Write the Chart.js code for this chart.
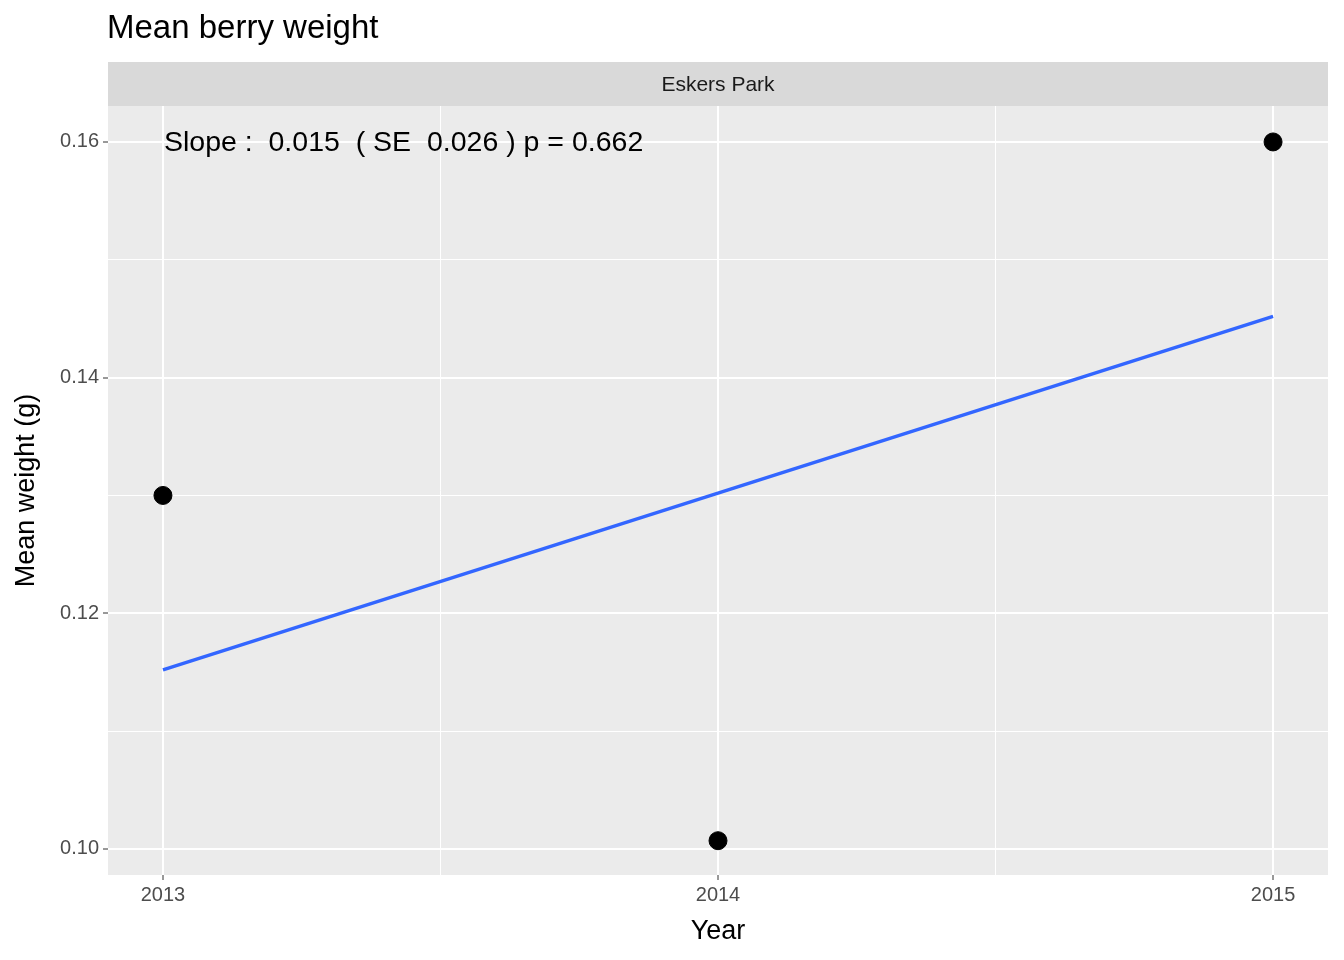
<!DOCTYPE html>
<html>
<head>
<meta charset="utf-8">
<script src="https://cdn.jsdelivr.net/npm/chart.js@4"></script>
<style>
  body { margin: 0; background: #fff; }
  #wrap { width: 1344px; height: 960px; }
</style>
</head>
<body>
<div id="wrap"><canvas id="berryChart" width="1344" height="960"></canvas></div>
<script>
// Datos
const years = [2013, 2014, 2015];
const meanWeight = [0.130, 0.1007, 0.160];
const fitWeight = [0.1152, 0.1302, 0.1452]; // recta de regresion
const fitYears = [2013, 2015];
const fitEnds = [fitWeight[0], fitWeight[2]];
const siteName = 'Eskers Park';
const slopeText = 'Slope :  0.015  ( SE  0.026 ) p = 0.662';

const FONT = '"Liberation Sans", Arial, sans-serif';

// Dibuja fondo gris, franja y textos estilo ggplot
const ggDecor = {
    id: 'ggDecor',
    beforeDraw(chart) {
        const { ctx, chartArea: a } = chart;
        ctx.save();
        ctx.fillStyle = '#ebebeb';
        ctx.fillRect(a.left, a.top, a.right - a.left, a.bottom - a.top);
        ctx.fillStyle = '#d9d9d9';
        ctx.fillRect(a.left, 62, a.right - a.left, a.top - 62);
        ctx.fillStyle = '#1a1a1a';
        ctx.font = '21px ' + FONT;
        ctx.textAlign = 'center';
        ctx.textBaseline = 'middle';
        ctx.fillText(siteName, (a.left + a.right) / 2, 85);
        ctx.fillStyle = '#000';
        ctx.font = '33px ' + FONT;
        ctx.textAlign = 'left';
        ctx.fillText('Mean berry weight', 107, 29);
        ctx.restore();
    },
    afterDatasetsDraw(chart) {
        const { ctx, scales } = chart;
        ctx.save();
        ctx.fillStyle = '#000';
        ctx.font = '28.5px ' + FONT;
        ctx.textAlign = 'left';
        ctx.textBaseline = 'middle';
        ctx.fillText(slopeText, scales.x.getPixelForValue(2013) + 1, scales.y.getPixelForValue(0.16) + 1);
        ctx.restore();
    }
};

const isMajor = (v, step) => Math.abs(v / step - Math.round(v / step)) < 1e-6;

new Chart(document.getElementById('berryChart'), {
    type: 'scatter',
    data: {
        datasets: [{
            type: 'line',
            data: fitYears.map((x, i) => ({ x: x, y: fitEnds[i] })),
            borderColor: '#3366FF',
            borderWidth: 3.5,
            pointRadius: 0,
            fill: false
        }, {
            data: years.map((x, i) => ({ x: x, y: meanWeight[i] })),
            backgroundColor: '#000',
            borderColor: '#000',
            pointRadius: 9,
            pointHoverRadius: 9
        }]
    },
    options: {
        responsive: false,
        animation: false,
        layout: { padding: { top: 106, right: 16 } },
        plugins: { legend: { display: false }, tooltip: { enabled: false } },
        scales: {
            x: {
                type: 'linear',
                min: 2012.901, max: 2015.099,
                afterBuildTicks(s) {
                    s.ticks = [2013, 2013.5, 2014, 2014.5, 2015].map(v => ({ value: v }));
                },
                afterFit(s) { s.height = 85; },
                border: { display: false },
                grid: {
                    color: '#fff',
                    lineWidth: c => isMajor(c.tick.value, 1) ? 2 : 1,
                    tickColor: c => isMajor(c.tick.value, 1) ? '#333' : 'rgba(0,0,0,0)',
                    tickLength: 5,
                    tickWidth: 1
                },
                ticks: {
                    autoSkip: false, maxRotation: 0,
                    color: '#4d4d4d', font: { size: 20, family: FONT }, padding: 3,
                    callback: v => isMajor(v, 1) ? String(v) : ''
                },
                title: { display: true, text: 'Year', color: '#000', font: { size: 27, family: FONT }, padding: { top: 0, bottom: 12 } }
            },
            y: {
                min: 0.09779, max: 0.16305,
                afterBuildTicks(s) {
                    s.ticks = [0.10, 0.11, 0.12, 0.13, 0.14, 0.15, 0.16].map(v => ({ value: v }));
                },
                afterFit(s) { s.width = 108; },
                border: { display: false },
                grid: {
                    color: '#fff',
                    lineWidth: c => isMajor(c.tick.value, 0.02) ? 2 : 1,
                    tickColor: c => isMajor(c.tick.value, 0.02) ? '#333' : 'rgba(0,0,0,0)',
                    tickLength: 5,
                    tickWidth: 1
                },
                ticks: {
                    autoSkip: false,
                    color: '#4d4d4d', font: { size: 20, family: FONT }, padding: 4,
                    callback: v => isMajor(v, 0.02) ? v.toFixed(2) : ''
                },
                title: { display: true, text: 'Mean weight (g)', color: '#000', font: { size: 27, family: FONT }, padding: { top: 10, bottom: 0 } }
            }
        }
    },
    plugins: [ggDecor]
});
</script>
</body>
</html>
